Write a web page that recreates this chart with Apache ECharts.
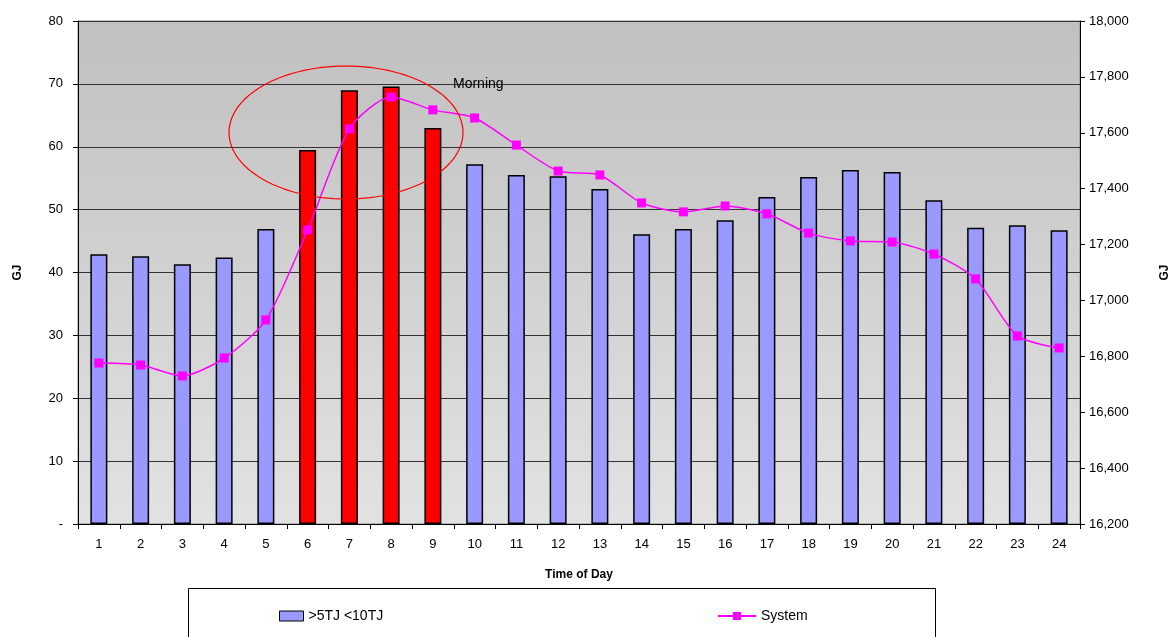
<!DOCTYPE html>
<html><head><meta charset="utf-8">
<script src="https://cdn.jsdelivr.net/npm/echarts@6/dist/echarts.min.js"></script>
<style>html,body{margin:0;padding:0;background:#fff}#c{width:1172px;height:637px}</style>
</head><body><div id="c"></div>
<script>
const hours = ['1','2','3','4','5','6','7','8','9','10','11','12','13','14','15','16','17','18','19','20','21','22','23','24'];
const bandValues = [42.9,42.6,41.3,42.4,46.9,59.5,69.0,69.6,63.0,57.2,55.5,55.3,53.3,46.1,46.9,48.3,52.0,55.2,56.3,56.0,51.5,47.1,47.5,46.7];
const systemValues = [16776,16769,16730,16794,16930,17252,17614,17728,17682,17653,17556,17463,17449,17349,17317,17338,17310,17241,17213,17209,17166,17077,16873,16830];
const morningHours = ['6','7','8','9'];
const leftTicks = {min:0, max:80, interval:10};
const rightTicks = {min:16200, max:18000, interval:200};

const FONT = 'Liberation Sans, Arial, sans-serif';
const chart = echarts.init(document.getElementById('c'));

const barData = bandValues.map((v,i)=>({
  value: v,
  itemStyle: morningHours.includes(hours[i]) ? {color:'#ff0000'} : undefined
}));

// ellipse annotation
const ell = [];
const cx=346, cy=132.5, rx=117, ry=66.5;
for (let k=0;k<=120;k++){const a=k/120*Math.PI*2; ell.push([cx+rx*Math.cos(a), cy+ry*Math.sin(a)]);}

chart.setOption({
  animation:false,
  textStyle:{fontFamily:FONT},
  grid:{left:78,right:92,top:21,bottom:113,show:true,outerBoundsMode:'none',containLabel:false,
    backgroundColor:new echarts.graphic.LinearGradient(0,0,0,1,[{offset:0,color:'#c0c0c0'},{offset:1,color:'#e2e2e2'}]),
    borderColor:'#888',borderWidth:1},
  legend:[
    {data:['>5TJ <10TJ'],left:274,top:604,itemWidth:24,itemHeight:10,itemGap:0,
     textStyle:{fontSize:14,color:'#000',fontFamily:FONT},icon:'rect',
     itemStyle:{color:'#9999ff',borderColor:'#000',borderWidth:1}},
    {data:['System'],left:712,top:604,itemWidth:38,itemHeight:10,
     textStyle:{fontSize:14,color:'#000',fontFamily:FONT}}
  ],
  graphic:[
    {type:'rect',left:188,top:588,shape:{width:747,height:60},style:{fill:'#fff',stroke:'#000',lineWidth:1},z:-1},
    {type:'polyline',shape:{points:ell},style:{stroke:'#ff0000',fill:null,lineWidth:1.2},z:100},
    {type:'text',left:453,top:77,style:{text:'Morning',fontSize:14,fill:'#000',fontFamily:FONT},z:100}
  ],
  xAxis:{type:'category',data:hours,boundaryGap:true,
    name:'Time of Day',nameLocation:'middle',nameGap:45,
    nameTextStyle:{fontWeight:'bold',fontSize:12,color:'#000'},
    axisLine:{lineStyle:{color:'#000'}},
    axisTick:{show:true,length:5,alignWithLabel:false,lineStyle:{color:'#000'}},
    axisLabel:{color:'#000',fontSize:13,margin:14}},
  yAxis:[
    {type:'value',min:leftTicks.min,max:leftTicks.max,interval:leftTicks.interval,
     name:'GJ',nameLocation:'middle',nameGap:54,nameRotate:90,
     nameTextStyle:{fontWeight:'bold',fontSize:12,color:'#000'},
     axisLine:{show:true,lineStyle:{color:'#000'}},
     axisTick:{show:true,length:5,lineStyle:{color:'#000'}},
     axisLabel:{color:'#000',fontSize:13,margin:15,formatter:v=>v===0?'-':v},
     splitLine:{show:true,lineStyle:{color:'#333',width:1}}},
    {type:'value',min:rightTicks.min,max:rightTicks.max,interval:rightTicks.interval,position:'right',
     name:'GJ',nameLocation:'middle',nameGap:79,nameRotate:90,
     nameTextStyle:{fontWeight:'bold',fontSize:12,color:'#000'},
     axisLine:{show:true,lineStyle:{color:'#000'}},
     axisTick:{show:true,length:5,lineStyle:{color:'#000'}},
     axisLabel:{color:'#000',fontSize:13,margin:9,formatter:v=>v.toLocaleString('en-US')},
     splitLine:{show:false}}
  ],
  series:[
    {name:'>5TJ <10TJ',type:'bar',data:barData,barWidth:17,yAxisIndex:0,
     itemStyle:{color:'#9999ff',borderColor:'#000',borderWidth:1.5}},
    {name:'System',type:'line',data:systemValues,yAxisIndex:1,smooth:0.25,
     symbol:'rect',symbolSize:9,lineStyle:{color:'#ff00ff',width:1.5},
     itemStyle:{color:'#ff00ff'},z:5}
  ]
});
</script></body></html>
